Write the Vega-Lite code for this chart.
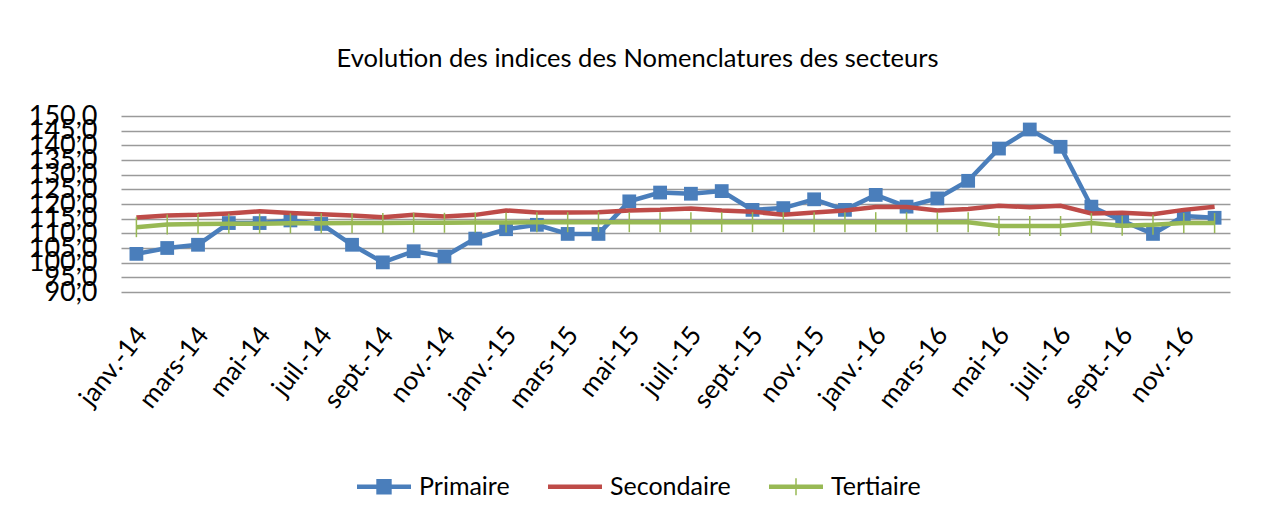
{
  "$schema": "https://vega.github.io/schema/vega-lite/v6.json",
  "autosize": {"type": "none"},
  "width": 1109,
  "height": 176,
  "padding": {"left": 121, "top": 116, "right": 33, "bottom": 238},
  "background": "white",
  "config": {
    "view": {"stroke": null},
    "font": "Lato"
  },
  "title": {
    "text": "Evolution des indices des Nomenclatures des secteurs",
    "font": "Lato",
    "fontSize": 25.5,
    "fontWeight": "normal",
    "color": "#000000",
    "anchor": "middle",
    "frame": "group",
    "dx": -38,
    "offset": 30
  },
  "data": {
    "values": [
      {"mois": "janv.-14", "Primaire": 103.0, "Secondaire": 115.4, "Tertiaire": 112.1},
      {"mois": "févr.-14", "Primaire": 105.0, "Secondaire": 116.1, "Tertiaire": 113.0},
      {"mois": "mars-14", "Primaire": 106.1, "Secondaire": 116.3, "Tertiaire": 113.2},
      {"mois": "avr.-14", "Primaire": 113.5, "Secondaire": 116.8, "Tertiaire": 113.3},
      {"mois": "mai-14", "Primaire": 113.5, "Secondaire": 117.5, "Tertiaire": 113.3},
      {"mois": "juin-14", "Primaire": 114.4, "Secondaire": 116.9, "Tertiaire": 113.4},
      {"mois": "juil.-14", "Primaire": 113.2, "Secondaire": 116.5, "Tertiaire": 113.4},
      {"mois": "août-14", "Primaire": 106.1, "Secondaire": 116.1, "Tertiaire": 113.5},
      {"mois": "sept.-14", "Primaire": 100.1, "Secondaire": 115.5, "Tertiaire": 113.5},
      {"mois": "oct.-14", "Primaire": 103.9, "Secondaire": 116.3, "Tertiaire": 113.6},
      {"mois": "nov.-14", "Primaire": 102.1, "Secondaire": 115.7, "Tertiaire": 113.6},
      {"mois": "déc.-14", "Primaire": 108.2, "Secondaire": 116.3, "Tertiaire": 113.7},
      {"mois": "janv.-15", "Primaire": 111.4, "Secondaire": 117.8, "Tertiaire": 113.7},
      {"mois": "févr.-15", "Primaire": 112.9, "Secondaire": 117.1, "Tertiaire": 113.8},
      {"mois": "mars-15", "Primaire": 109.8, "Secondaire": 117.1, "Tertiaire": 113.8},
      {"mois": "avr.-15", "Primaire": 109.8, "Secondaire": 117.2, "Tertiaire": 113.8},
      {"mois": "mai-15", "Primaire": 120.9, "Secondaire": 117.8, "Tertiaire": 113.8},
      {"mois": "juin-15", "Primaire": 123.9, "Secondaire": 118.0, "Tertiaire": 113.8},
      {"mois": "juil.-15", "Primaire": 123.5, "Secondaire": 118.5, "Tertiaire": 113.8},
      {"mois": "août-15", "Primaire": 124.4, "Secondaire": 117.8, "Tertiaire": 113.8},
      {"mois": "sept.-15", "Primaire": 118.0, "Secondaire": 117.4, "Tertiaire": 113.8},
      {"mois": "oct.-15", "Primaire": 118.6, "Secondaire": 116.3, "Tertiaire": 113.8},
      {"mois": "nov.-15", "Primaire": 121.6, "Secondaire": 117.1, "Tertiaire": 113.8},
      {"mois": "déc.-15", "Primaire": 118.0, "Secondaire": 117.8, "Tertiaire": 113.8},
      {"mois": "janv.-16", "Primaire": 123.1, "Secondaire": 119.0, "Tertiaire": 113.8},
      {"mois": "févr.-16", "Primaire": 119.1, "Secondaire": 119.0, "Tertiaire": 113.8},
      {"mois": "mars-16", "Primaire": 121.9, "Secondaire": 117.8, "Tertiaire": 113.8},
      {"mois": "avr.-16", "Primaire": 127.9, "Secondaire": 118.3, "Tertiaire": 113.8},
      {"mois": "mai-16", "Primaire": 138.9, "Secondaire": 119.4, "Tertiaire": 112.5},
      {"mois": "juin-16", "Primaire": 145.4, "Secondaire": 118.9, "Tertiaire": 112.5},
      {"mois": "juil.-16", "Primaire": 139.5, "Secondaire": 119.4, "Tertiaire": 112.5},
      {"mois": "août-16", "Primaire": 119.1, "Secondaire": 116.8, "Tertiaire": 113.5},
      {"mois": "sept.-16", "Primaire": 114.3, "Secondaire": 117.0, "Tertiaire": 112.6},
      {"mois": "oct.-16", "Primaire": 109.8, "Secondaire": 116.5, "Tertiaire": 112.9},
      {"mois": "nov.-16", "Primaire": 115.9, "Secondaire": 118.0, "Tertiaire": 113.5},
      {"mois": "déc.-16", "Primaire": 115.3, "Secondaire": 119.1, "Tertiaire": 113.5}
    ]
  },
  "transform": [
    {"fold": ["Primaire", "Secondaire", "Tertiaire"], "as": ["serie", "valeur"]}
  ],
  "encoding": {
    "x": {
      "field": "mois",
      "type": "ordinal",
      "sort": null,
      "scale": {"type": "point", "padding": 0.5},
      "axis": {
        "title": null,
        "domain": false,
        "ticks": false,
        "tickSize": 0,
        "grid": false,
        "values": ["janv.-14", "mars-14", "mai-14", "juil.-14", "sept.-14", "nov.-14", "janv.-15", "mars-15", "mai-15", "juil.-15", "sept.-15", "nov.-15", "janv.-16", "mars-16", "mai-16", "juil.-16", "sept.-16", "nov.-16"],
        "labelAngle": -52,
        "labelAlign": "right",
        "labelBaseline": "middle",
        "labelFontSize": 26,
        "labelColor": "#000000",
        "labelPadding": 38,
        "labelOffset": 5,
        "labelOverlap": false,
        "labelFont": "Lato"
      }
    },
    "y": {
      "field": "valeur",
      "type": "quantitative",
      "scale": {"domain": [90, 150], "nice": false, "zero": false},
      "axis": {
        "title": null,
        "domain": false,
        "ticks": false,
        "tickSize": 0,
        "values": [90, 95, 100, 105, 110, 115, 120, 125, 130, 135, 140, 145, 150],
        "labelExpr": "replace(format(datum.value, '.1f'), '.', ',')",
        "labelFontSize": 27,
        "labelColor": "#000000",
        "labelPadding": 24,
        "labelOverlap": false,
        "labelBound": false,
        "labelFlush": false,
        "labelFont": "Lato",
        "grid": true,
        "gridColor": "#9a9a9a",
        "gridWidth": 1.5
      }
    }
  },
  "layer": [
    {
      "transform": [{"filter": "datum.serie == 'Primaire'"}],
      "mark": {"type": "line", "color": "#4A7EBB", "strokeWidth": 4.5}
    },
    {
      "transform": [{"filter": "datum.serie == 'Primaire'"}],
      "mark": {"type": "point", "shape": "square", "filled": true, "color": "#4A7EBB", "size": 190, "opacity": 1}
    },
    {
      "transform": [{"filter": "datum.serie == 'Secondaire'"}],
      "mark": {"type": "line", "color": "#BE4B48", "strokeWidth": 4.5}
    },
    {
      "transform": [{"filter": "datum.serie == 'Tertiaire'"}],
      "mark": {"type": "line", "color": "#98B954", "strokeWidth": 4.5}
    },
    {
      "transform": [{"filter": "datum.serie == 'Tertiaire'"}],
      "mark": {"type": "point", "shape": "M0,-1L0,1", "filled": false, "color": "#98B954", "strokeWidth": 1.5, "size": 400, "opacity": 1}
    },
    {
      "transform": [{"filter": "false"}],
      "mark": {"type": "point", "filled": true, "opacity": 1, "strokeWidth": 0},
      "encoding": {
        "color": {
          "field": "serie",
          "type": "nominal",
          "scale": {"domain": ["Primaire", "Secondaire", "Tertiaire"], "range": ["#4A7EBB", "#BE4B48", "#98B954"]},
          "legend": {
            "title": null,
            "orient": "none",
            "direction": "horizontal",
            "legendX": 249.5,
            "legendY": 357,
            "symbolSize": 729,
            "symbolStrokeWidth": 0,
            "symbolOpacity": 1,
            "labelOffset": 21.5,
            "columnPadding": 37,
            "labelFontSize": 25,
            "labelColor": "#000000",
            "labelFont": "Lato",
            "labelLimit": 300
          }
        },
        "shape": {
          "field": "serie",
          "type": "nominal",
          "scale": {
            "domain": ["Primaire", "Secondaire", "Tertiaire"],
            "range": [
              "M-2,-0.167H2V0.167H-2Z M-0.57,-0.57H0.57V0.57H-0.57Z",
              "M-2,-0.167H2V0.167H-2Z",
              "M-2,-0.167H2V0.167H-2Z M-0.055,-0.63H0.055V0.63H-0.055Z"
            ]
          },
          "legend": {
            "title": null,
            "orient": "none",
            "direction": "horizontal",
            "legendX": 249.5,
            "legendY": 357,
            "symbolSize": 729,
            "symbolStrokeWidth": 0,
            "symbolOpacity": 1,
            "labelOffset": 21.5,
            "columnPadding": 37,
            "labelFontSize": 25,
            "labelColor": "#000000",
            "labelFont": "Lato",
            "labelLimit": 300
          }
        }
      }
    }
  ]
}
